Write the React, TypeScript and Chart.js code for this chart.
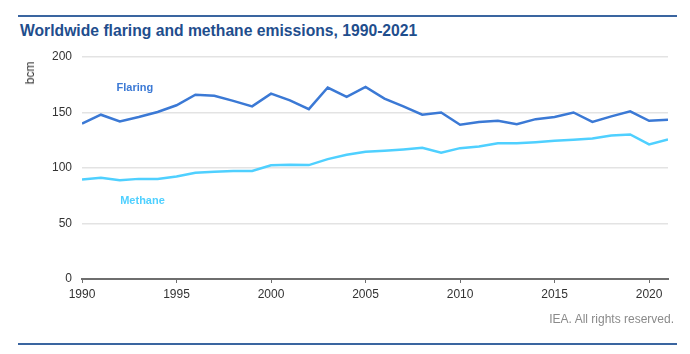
import React, { useEffect, useRef } from "react";
import { Chart, registerables } from "chart.js";

Chart.register(...registerables);

const years = [
  1990, 1991, 1992, 1993, 1994, 1995, 1996, 1997, 1998, 1999, 2000, 2001, 2002, 2003, 2004, 2005,
  2006, 2007, 2008, 2009, 2010, 2011, 2012, 2013, 2014, 2015, 2016, 2017, 2018, 2019, 2020, 2021,
];
const flaring = [
  140, 148, 142, 146, 150.5, 156.5, 166, 165, 160.5, 155.5, 167, 161, 153, 172.5, 164, 173,
  162.5, 155.5, 148, 150, 139, 141.5, 142.5, 139.5, 144, 146, 150, 141.5, 146.5, 151, 142.5, 143.5,
];
const methane = [
  89.6, 91.2, 89, 90.2, 90, 92.3, 95.7, 96.6, 97.2, 97.4, 102.5, 102.9, 102.6, 108, 111.9, 114.6,
  115.5, 116.7, 118.2, 113.7, 117.9, 119.4, 122.3, 122.3, 123.3, 124.5, 125.4, 126.6, 129.3, 130.2, 121.2, 125.7,
];
const yTicks = [0, 50, 100, 150, 200];
const seriesNames = ["Flaring", "Methane"];
const labelAnchors = [
  { x: 1992.8, y: 171.7 },
  { x: 1993.2, y: 70.7 },
];

const FONT = "'Liberation Sans', Arial, Helvetica, sans-serif";
const FLARE = "#3b79d5";
const METH = "#4fd0ff";

const seriesLabelPlugin = {
  id: "seriesLabels",
  afterDatasetsDraw(chart: any) {
    const { ctx, scales } = chart;
    const colors = [FLARE, METH];
    ctx.save();
    ctx.font = `bold 11px ${FONT}`;
    ctx.textAlign = "center";
    ctx.textBaseline = "middle";
    seriesNames.forEach((name, i) => {
      ctx.fillStyle = colors[i];
      ctx.fillText(name, scales.x.getPixelForValue(labelAnchors[i].x), scales.y.getPixelForValue(labelAnchors[i].y));
    });
    ctx.restore();
  },
};

export default function App() {
  const ref = useRef<HTMLCanvasElement | null>(null);
  useEffect(() => {
    if (!ref.current) return;
    const chart = new Chart(ref.current, {
      type: "line",
      data: {
        datasets: [
          {
            label: seriesNames[0],
            data: years.map((yr, i) => ({ x: yr, y: flaring[i] })),
            borderColor: FLARE,
            borderWidth: 2.5,
            pointRadius: 0,
            tension: 0,
          },
          {
            label: seriesNames[1],
            data: years.map((yr, i) => ({ x: yr, y: methane[i] })),
            borderColor: METH,
            borderWidth: 2.5,
            pointRadius: 0,
            tension: 0,
          },
        ],
      },
      options: {
        responsive: false,
        animation: false,
        layout: { padding: { top: 57, right: 22, left: 0, bottom: 0 } },
        plugins: { legend: { display: false }, tooltip: { enabled: false } },
        scales: {
          x: {
            type: "linear",
            min: years[0],
            max: years[years.length - 1],
            afterFit: (s: any) => {
              s.height = 75;
            },
            ticks: {
              stepSize: 5,
              includeBounds: false,
              padding: 4,
              color: "#333",
              font: { family: FONT, size: 12 },
              callback: (v: any) => String(v),
            },
            grid: { drawOnChartArea: false, drawTicks: true, tickLength: 4, color: "#6e6e6e", lineWidth: 1 },
            border: { color: "#6e6e6e", width: 2 },
          },
          y: {
            min: 0,
            max: 200,
            afterFit: (s: any) => {
              s.width = 82;
            },
            afterBuildTicks: (s: any) => {
              s.ticks = yTicks.map((v) => ({ value: v }));
            },
            ticks: {
              padding: 10,
              color: "#333",
              font: { family: FONT, size: 12 },
            },
            grid: { color: "#e3e3e3", lineWidth: 1.5, drawTicks: false },
            border: { display: false },
          },
        },
      },
      plugins: [seriesLabelPlugin],
    });
    return () => chart.destroy();
  }, []);

  return (
    <div style={{ position: "absolute", left: 0, top: 0, width: 690, height: 354, background: "#fff", fontFamily: FONT, overflow: "hidden" }}>
      <div style={{ position: "absolute", left: 18, top: 15, width: 659, height: 2, background: "#3a65a0" }} />
      <div style={{ position: "absolute", left: 20, top: 21, fontSize: 15.7, lineHeight: "20px", fontWeight: "bold", color: "#1f4e8d", whiteSpace: "nowrap" }}>
        Worldwide flaring and methane emissions, 1990-2021
      </div>
      <canvas ref={ref} width={690} height={354} style={{ position: "absolute", left: 0, top: 0, width: 690, height: 354 }} />
      <div style={{ position: "absolute", left: 30, top: 72.5, width: 0, height: 0 }}>
        <div style={{ position: "absolute", transform: "translate(-50%, -50%) rotate(-90deg)", fontSize: 12, color: "#333", whiteSpace: "nowrap" }}>bcm</div>
      </div>
      <div style={{ position: "absolute", right: 16, top: 311, fontSize: 12, lineHeight: "16px", color: "#8a8a8a", whiteSpace: "nowrap" }}>
        IEA. All rights reserved.
      </div>
      <div style={{ position: "absolute", left: 18, top: 343, width: 659, height: 2, background: "#3a65a0" }} />
    </div>
  );
}
